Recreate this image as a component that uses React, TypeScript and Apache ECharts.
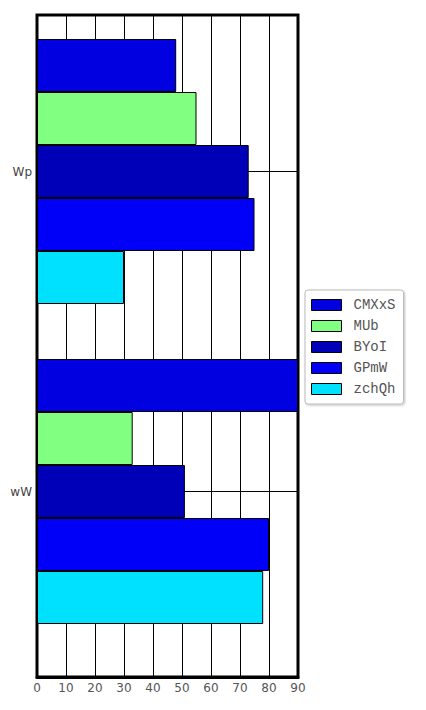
import React, { useEffect, useRef } from "react";
import * as echarts from "echarts";

const categories = ["Wp", "wW"];
const seriesNames = ["CMXxS", "MUb", "BYoI", "GPmW", "zchQh"];
const seriesColors = ["#0000e0", "#80ff80", "#0000b8", "#0000f8", "#00e0ff"];
const valuesCMXxS = [48, 90];
const valuesMUb = [55, 33];
const valuesBYoI = [73, 51];
const valuesGPmW = [75, 80];
const valuesZchQh = [30, 78];
const seriesValues = [valuesCMXxS, valuesMUb, valuesBYoI, valuesGPmW, valuesZchQh];
const xMin = 0;
const xMax = 90;
const xInterval = 10;

export default function App() {
  const ref = useRef<HTMLDivElement>(null);
  useEffect(() => {
    if (!ref.current) return;
    const chart = echarts.init(ref.current, null, { renderer: "svg" });
    const option: any = {
      animation: false,
      backgroundColor: "#ffffff",
      grid: [
        {
          left: 37,
          right: 128,
          top: 15,
          bottom: 33,
          show: true,
          borderColor: "#000",
          borderWidth: 3,
          backgroundColor: "transparent",
        },
        { left: 37, right: 128, top: 171.5, bottom: 218.5 },
      ],
      xAxis: [
        {
          type: "value",
          gridIndex: 0,
          min: xMin,
          max: xMax,
          interval: xInterval,
          axisLine: { show: true, lineStyle: { color: "#000", width: 3 } },
          axisTick: { show: false },
          splitLine: { show: true, lineStyle: { color: "#000", width: 1 } },
          axisLabel: {
            margin: 5,
            color: "#555",
            fontFamily: "DejaVu Sans",
            fontSize: 12,
          },
        },
        {
          type: "value",
          gridIndex: 1,
          min: xMin,
          max: xMax,
          show: false,
        },
      ],
      yAxis: [
        {
          type: "category",
          gridIndex: 0,
          data: categories,
          show: false,
        },
        {
          type: "category",
          gridIndex: 1,
          data: categories,
          inverse: true,
          boundaryGap: false,
          axisLine: { show: false },
          axisTick: { show: false },
          splitLine: { show: true, lineStyle: { color: "#000", width: 1 } },
          axisLabel: {
            margin: 5,
            color: "#444",
            fontFamily: "DejaVu Sans",
            fontSize: 12,
          },
        },
      ],
      legend: {
        orient: "vertical",
        left: 305,
        top: 290,
        padding: [8, 8, 8, 6],
        itemWidth: 30,
        itemHeight: 11,
        itemGap: 7,
        borderColor: "#bbb",
        borderWidth: 1,
        borderRadius: 3,
        backgroundColor: "#fff",
        shadowBlur: 2,
        shadowColor: "rgba(0,0,0,0.25)",
        shadowOffsetX: 1,
        shadowOffsetY: 1,
        icon: "rect",
        itemStyle: { borderColor: "#000", borderWidth: 1 },
        textStyle: {
          fontFamily: "Liberation Mono",
          fontSize: 14,
          lineHeight: 14,
          color: "#555",
          padding: [0, 0, 0, 7],
        },
        data: seriesNames,
      },
      series: seriesNames.map((name, i) => ({
        name,
        type: "bar",
        xAxisIndex: 1,
        yAxisIndex: 1,
        data: seriesValues[i],
        barGap: "0%",
        barCategoryGap: "17.1875%",
        clip: false,
        itemStyle: { color: seriesColors[i], borderColor: "#000", borderWidth: 1 },
        z: 2,
      })),
    };
    chart.setOption(option);
    return () => chart.dispose();
  }, []);
  return (
    <div
      ref={ref}
      style={{ position: "fixed", left: 0, top: 0, width: 426, height: 710 }}
    />
  );
}
